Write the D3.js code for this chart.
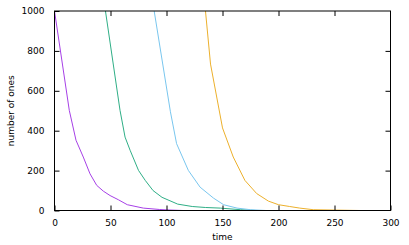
<!DOCTYPE html>
<html>
<head>
<meta charset="utf-8">
<script src="https://cdn.jsdelivr.net/npm/d3@7"></script>
<style>
  body { margin: 0; background: #fff; }
  text { font-family: "DejaVu Sans", sans-serif; font-size: 9px; fill: #000; }
</style>
</head>
<body>
<script>
// values
const purpleTime = [0, 13.2, 19.2, 25.7, 31.7, 37.7, 43.6, 49.6, 57, 65, 79.3, 94, 100, 115, 300];
const purpleOnes = [1000, 502, 352, 268, 184, 126, 97, 75, 54, 29, 12, 5, 3, 0, 0];
const greenTime = [45.5, 58.5, 63, 67.5, 75, 81, 88, 96, 110, 123, 135, 148, 166, 180, 300];
const greenOnes = [1000, 502, 368, 302, 201, 151, 100, 66, 32, 20, 15, 12, 4, 0, 0];
const blueTime = [89, 103.5, 109, 119.5, 130, 142, 151, 163, 175, 189, 300];
const blueOnes = [1000, 495, 335, 201, 117, 62, 29, 12, 4, 0, 0];
const orangeTime = [134.8, 139.3, 150, 159.6, 170, 180.5, 191, 200, 210, 219, 231, 252, 273, 300];
const orangeOnes = [1000, 734, 414, 268, 151, 85, 47, 29, 20, 12, 4, 2, 0, 0];

const xTicks = [0, 50, 100, 150, 200, 250, 300];
const yTicks = [0, 200, 400, 600, 800, 1000];

const width = 409;
const height = 245;
const margin = { top: 11, right: 18.5, bottom: 34.5, left: 54.5 };

const svg = d3
  .select("body")
  .append("svg")
  .attr("width", width)
  .attr("height", height);

const xScale = d3.scaleLinear().domain([0, 300]).range([margin.left, width - margin.right]);
const yScale = d3.scaleLinear().domain([0, 1000]).range([height - margin.bottom, margin.top]);

// clip so lines leaving the top stay inside
svg.append("clipPath").attr("id", "plot")
  .append("rect")
  .attr("x", xScale(0)).attr("y", yScale(1000))
  .attr("width", xScale(300) - xScale(0))
  .attr("height", yScale(0) - yScale(1000));

const series = [
  { t: purpleTime, v: purpleOnes, color: "#a640e6" },
  { t: greenTime, v: greenOnes, color: "#2fae86" },
  { t: blueTime, v: blueOnes, color: "#79c6ee" },
  { t: orangeTime, v: orangeOnes, color: "#ecb02c" },
];

const line = d3.line().x((d) => xScale(d[0])).y((d) => yScale(d[1]));

svg.append("g")
  .attr("clip-path", "url(#plot)")
  .selectAll("path")
  .data(series)
  .enter()
  .append("path")
  .attr("d", (s) => line(s.t.map((t, i) => [t, s.v[i]])))
  .attr("fill", "none")
  .attr("stroke", (s) => s.color)
  .attr("stroke-width", 1);

// axes with inward ticks, mirrored on top and right
const tickLen = 5;
const fmt = d3.format("d");
svg.append("g")
  .attr("transform", `translate(0,${yScale(0)})`)
  .call(d3.axisBottom(xScale).tickValues(xTicks).tickFormat(fmt).tickSizeInner(-tickLen).tickSizeOuter(0).tickPadding(9))
  .call((g) => g.select(".domain").remove());
svg.append("g")
  .attr("transform", `translate(0,${yScale(1000)})`)
  .call(d3.axisTop(xScale).tickValues(xTicks.slice(1, -1)).tickSizeInner(-tickLen).tickSizeOuter(0).tickFormat(""))
  .call((g) => g.select(".domain").remove());
svg.append("g")
  .attr("transform", `translate(${xScale(0)},0)`)
  .call(d3.axisLeft(yScale).tickValues(yTicks).tickFormat(fmt).tickSizeInner(-tickLen).tickSizeOuter(0).tickPadding(10))
  .call((g) => g.select(".domain").remove());
svg.append("g")
  .attr("transform", `translate(${xScale(300)},0)`)
  .call(d3.axisRight(yScale).tickValues(yTicks.slice(1, -1)).tickSizeInner(-tickLen).tickSizeOuter(0).tickFormat(""))
  .call((g) => g.select(".domain").remove());

svg.selectAll(".tick line").attr("stroke", "#000");
svg.selectAll(".tick text").attr("font-size", 9).attr("font-family", "DejaVu Sans, sans-serif");

// frame
svg.append("rect")
  .attr("x", xScale(0))
  .attr("y", yScale(1000))
  .attr("width", xScale(300) - xScale(0))
  .attr("height", yScale(0) - yScale(1000))
  .attr("fill", "none")
  .attr("stroke", "#000")
  .attr("stroke-width", 1);

// axis titles
svg.append("text")
  .attr("x", (xScale(0) + xScale(300)) / 2)
  .attr("y", 240)
  .attr("text-anchor", "middle")
  .text("time");

svg.append("text")
  .attr("transform", `translate(14,${(yScale(0) + yScale(1000)) / 2}) rotate(-90)`)
  .attr("text-anchor", "middle")
  .text("number of ones");
</script>
</body>
</html>
